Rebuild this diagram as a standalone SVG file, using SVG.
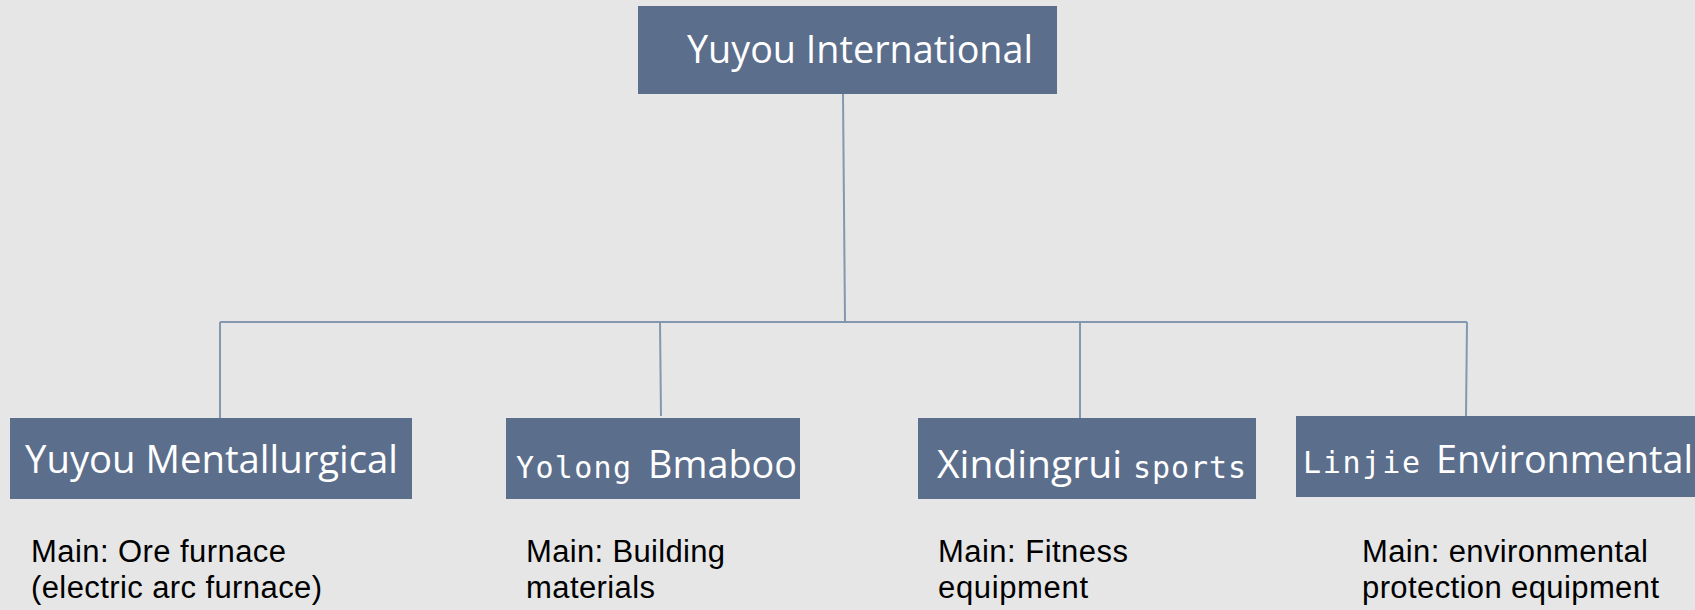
<svg xmlns="http://www.w3.org/2000/svg" width="1695" height="610" viewBox="0 0 1695 610">
<style>
.box{fill:#5B6E8C}
.t{font-family:"Open Sans","Noto Sans","DejaVu Sans",sans-serif;font-size:38px;fill:#FFFFFF}
.m{font-family:"DejaVu Sans Mono","Liberation Mono",monospace;font-size:30px;fill:#FFFFFF}
.d{font-family:"Liberation Sans",Arial,sans-serif;font-size:31px;fill:#000000}
.c{stroke:#8497B0;stroke-width:2;fill:none}
</style>
<rect width="1695" height="610" fill="#E6E6E6"/>
<g id="connectors">
<line class="c" x1="843" y1="94" x2="845" y2="322"/>
<line class="c" x1="220" y1="322" x2="1467" y2="322" stroke-width="3"/>
<line class="c" x1="220" y1="322" x2="220" y2="418"/>
<line class="c" x1="660" y1="322" x2="661" y2="416"/>
<line class="c" x1="1080" y1="322" x2="1080" y2="418"/>
<line class="c" x1="1467" y1="322" x2="1466" y2="416"/>
</g>
<g id="node-top">
<rect class="box" x="638" y="6" width="419" height="88"/>
<text class="t" x="687" y="63" textLength="346" lengthAdjust="spacingAndGlyphs">Yuyou International</text>
</g>
<g id="node-1">
<rect class="box" x="10" y="418" width="402" height="81"/>
<text class="t" x="25" y="473" textLength="373" lengthAdjust="spacingAndGlyphs">Yuyou Mentallurgical</text>
<text class="d" x="31" y="562" textLength="255">Main: Ore furnace</text>
<text class="d" x="31" y="598" textLength="291">(electric arc furnace)</text>
</g>
<g id="node-2">
<rect class="box" x="506" y="418" width="294" height="81"/>
<text class="m" x="516" y="478" textLength="115" lengthAdjust="spacing">Yolong</text>
<text class="t" x="648" y="478" textLength="149" lengthAdjust="spacingAndGlyphs">Bmaboo</text>
<text class="d" x="526" y="562" textLength="199">Main: Building</text>
<text class="d" x="526" y="598" textLength="129">materials</text>
</g>
<g id="node-3">
<rect class="box" x="918" y="418" width="338" height="81"/>
<text class="t" x="937" y="478" textLength="185" lengthAdjust="spacingAndGlyphs">Xindingrui</text>
<text class="m" x="1133" y="478" textLength="113" lengthAdjust="spacing">sports</text>
<text class="d" x="938" y="562" textLength="190">Main: Fitness</text>
<text class="d" x="938" y="598" textLength="150">equipment</text>
</g>
<g id="node-4">
<rect class="box" x="1296" y="416" width="399" height="81"/>
<text class="m" x="1303" y="473" textLength="117" lengthAdjust="spacing">Linjie</text>
<text class="t" x="1436" y="473" textLength="257" lengthAdjust="spacingAndGlyphs">Environmental</text>
<text class="d" x="1362" y="562" textLength="286">Main: environmental</text>
<text class="d" x="1362" y="598" textLength="297">protection equipment</text>
</g>
</svg>
